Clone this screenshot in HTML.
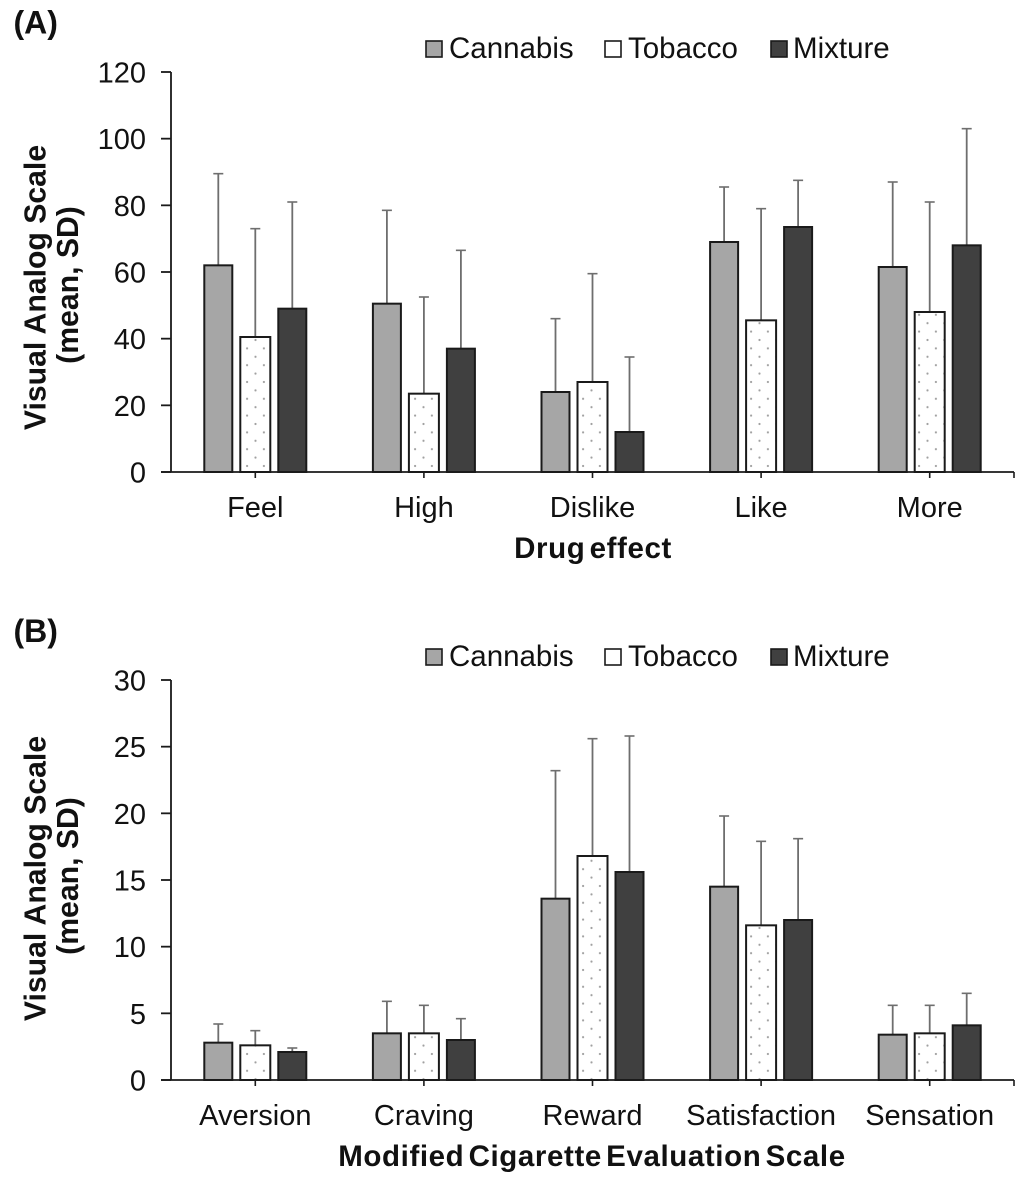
<!DOCTYPE html>
<html>
<head>
<meta charset="utf-8">
<title>Visual Analog Scale charts</title>
<style>
html,body{margin:0;padding:0;background:#fff;}
svg{display:block;}
text{font-family:"Liberation Sans",Arial,sans-serif;fill:#111;}
.tick{font-size:29px;}
.leg{font-size:29.5px;}
.title{font-size:29.5px;font-weight:bold;letter-spacing:.6px;word-spacing:-4.5px;}
.ytitle{font-size:30.2px;font-weight:bold;}
.panel{font-size:32px;font-weight:bold;}
</style>
</head>
<body>
<svg id="chart" xmlns="http://www.w3.org/2000/svg" width="1036" height="1200" viewBox="0 0 1036 1200">
  <defs>
    <pattern id="dots" patternUnits="userSpaceOnUse" width="16.8" height="16.8" x="1.5" y="2">
      <rect width="16.8" height="16.8" fill="#fff"/>
      <circle cx="2" cy="2" r="1.1" fill="#a0a0a0"/>
      <circle cx="10.4" cy="10.4" r="1.1" fill="#a0a0a0"/>
    </pattern>
  </defs>
</svg>
<script>
const seriesNames = ['Cannabis', 'Tobacco', 'Mixture'];

const categoriesA = ['Feel', 'High', 'Dislike', 'Like', 'More'];
const cannabisMeanA = [62, 50.5, 24, 69, 61.5];
const tobaccoMeanA = [40.5, 23.5, 27, 45.5, 48];
const mixtureMeanA = [49, 37, 12, 73.5, 68];
const cannabisSdA = [27.5, 28, 22, 16.5, 25.5];
const tobaccoSdA = [32.5, 29, 32.5, 33.5, 33];
const mixtureSdA = [32, 29.5, 22.5, 14, 35];
const yTicksA = [0, 20, 40, 60, 80, 100, 120];

const categoriesB = ['Aversion', 'Craving', 'Reward', 'Satisfaction', 'Sensation'];
const cannabisMeanB = [2.8, 3.5, 13.6, 14.5, 3.4];
const tobaccoMeanB = [2.6, 3.5, 16.8, 11.6, 3.5];
const mixtureMeanB = [2.1, 3.0, 15.6, 12.0, 4.1];
const cannabisSdB = [1.4, 2.4, 9.6, 5.3, 2.2];
const tobaccoSdB = [1.1, 2.1, 8.8, 6.3, 2.1];
const mixtureSdB = [0.3, 1.6, 10.2, 6.1, 2.4];
const yTicksB = [0, 5, 10, 15, 20, 25, 30];

const svg = document.getElementById('chart');
const NS = 'http://www.w3.org/2000/svg';

function make(tag, attrs, text) {
  const el = document.createElementNS(NS, tag);
  for (const k in attrs) el.setAttribute(k, attrs[k]);
  if (text !== undefined) el.textContent = text;
  svg.appendChild(el);
  return el;
}

function drawPanel(cfg) {
  const left = 171, right = 1014;
  const y0 = cfg.y0, yTop = y0 - 400;
  const yMax = cfg.yTicks[cfg.yTicks.length - 1];
  const band = (right - left) / cfg.categories.length;
  const xScale = i => left + band * (i + 0.5);
  const yScale = v => y0 - (v / yMax) * (y0 - yTop);
  const offsets = [-37, 0, 37];
  const widths = [28, 30, 28];
  const fills = ['#a6a6a6', 'url(#dots)', '#404040'];

  // Error bars drawn first so bars sit over them
  cfg.means.forEach((vals, s) => {
    vals.forEach((v, i) => {
      const cx = xScale(i) + offsets[s];
      const top = yScale(v + cfg.sds[s][i]);
      const stem = make('line', {x1: cx, x2: cx, y1: yScale(v), y2: top, stroke: '#6e6e6e', 'stroke-width': 1.8});
      
      
      const cap = make('line', {x1: cx - 5, x2: cx + 5, y1: top, y2: top, stroke: '#6e6e6e', 'stroke-width': 1.6});
      
      
    });
  });

  // Bars
  cfg.means.forEach((vals, s) => {
    vals.forEach((v, i) => {
      const cx = xScale(i) + offsets[s];
      const bar = make('rect', {x: cx - widths[s] / 2, y: yScale(v), width: widths[s], height: y0 - yScale(v), fill: fills[s], stroke: '#1a1a1a', 'stroke-width': 2});
      
      
    });
  });

  // Y axis
  const yAxis = make('line', {x1: left, x2: left, y1: yTop, y2: y0, stroke: '#1a1a1a', 'stroke-width': 1.8});
  
  
  cfg.yTicks.forEach(t => {
    const y = yScale(t);
    const mark = make('line', {x1: left - 10, x2: left, y1: y, y2: y, stroke: '#1a1a1a', 'stroke-width': 1.8});
    
    
    const lab = make('text', {x: 146, y: y + 10.5, 'text-anchor': 'end', class: 'tick'}, String(t));
    
    
  });

  // X axis
  const xAxis = make('line', {x1: left - 10, x2: right, y1: y0, y2: y0, stroke: '#1a1a1a', 'stroke-width': 1.8});
  
  
  cfg.categories.forEach((c, i) => {
    const mark = make('line', {x1: xScale(i), x2: xScale(i), y1: y0, y2: y0 + 6, stroke: '#1a1a1a', 'stroke-width': 1.6});
    
    
    const lab = make('text', {x: xScale(i), y: y0 + 45, 'text-anchor': 'middle', class: 'tick'}, c);
    
    
  });
  const endMark = make('line', {x1: right, x2: right, y1: y0, y2: y0 + 6, stroke: '#1a1a1a', 'stroke-width': 1.6});
  
  

  // Titles
  const xTitle = make('text', {x: cfg.xTitleX, y: y0 + 86, 'text-anchor': 'middle', class: 'title'}, cfg.xTitle);
  
  
  const yTitle1 = make('text', {x: 0, y: 0, 'text-anchor': 'middle', class: 'ytitle', transform: 'translate(45.5,' + cfg.yTitleY + ') rotate(-90)'}, 'Visual Analog Scale');
  
  
  const yTitle2 = make('text', {x: 0, y: 0, 'text-anchor': 'middle', class: 'ytitle', transform: 'translate(78,' + cfg.ySubY + ') rotate(-90)'}, '(mean, SD)');
  
  

  const pl = make('text', {x: 13.5, y: y0 - cfg.panelDy, class: 'panel'}, cfg.panel);
  
  

  // Legend
  const swatchX = [426, 605, 771];
  const textX = [449, 628, 793];
  const ly = y0 - 424;
  seriesNames.forEach((n, s) => {
    const sw = make('rect', {x: swatchX[s], y: ly - 7, width: 16, height: 16, fill: s === 1 ? '#fff' : fills[s], stroke: '#1a1a1a', 'stroke-width': 1.6});
    
    
    const t = make('text', {x: textX[s], y: ly + 10, class: 'leg'}, n);
    
    
  });
}

drawPanel({
  y0: 472, panel: '(A)', panelDy: 438.5,
  categories: categoriesA,
  means: [cannabisMeanA, tobaccoMeanA, mixtureMeanA],
  sds: [cannabisSdA, tobaccoSdA, mixtureSdA],
  yTicks: yTicksA,
  xTitle: 'Drug effect', xTitleX: 593,
  yTitleY: 287.5, ySubY: 285
});
drawPanel({
  y0: 1080, panel: '(B)', panelDy: 438,
  categories: categoriesB,
  means: [cannabisMeanB, tobaccoMeanB, mixtureMeanB],
  sds: [cannabisSdB, tobaccoSdB, mixtureSdB],
  yTicks: yTicksB,
  xTitle: 'Modified Cigarette Evaluation Scale', xTitleX: 592,
  yTitleY: 878.5, ySubY: 876
});
</script>
</body>
</html>
